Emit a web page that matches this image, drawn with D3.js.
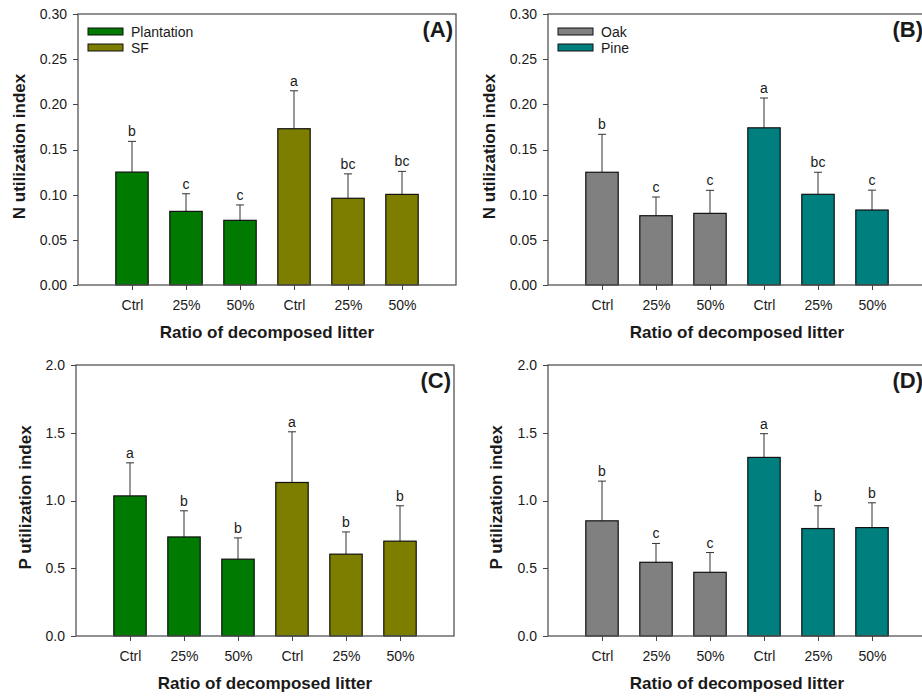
<!DOCTYPE html>
<html lang="en">
<head>
<meta charset="UTF-8"/>
<title>utilization index</title>
<script src="https://d3js.org/d3.v7.min.js"></script>
<style>
  body { margin: 0; background: #fff; }
  text { font-family: "Liberation Sans", Arial, sans-serif; fill: #1a1a1a; }
  .axis line { stroke: #444; shape-rendering: crispEdges; }
  .axis path { display: none; }
  .axis text { font-size: 14px; }
  .title { font-size: 17px; font-weight: bold; }
  .tag { font-size: 22px; font-weight: bold; }
  .letter { font-size: 14px; }
  .legend text { font-size: 14px; }
</style>
</head>
<body>
<div id="chart"></div>
<script>

// x categories (same for every panel)
var treatments = ["Ctrl", "25%", "50%", "Ctrl", "25%", "50%"];

// (A) N utilization index, Plantation vs SF
var nStandMean = [0.125, 0.0815, 0.0716, 0.173, 0.096, 0.1003];
var nStandErr  = [0.034, 0.0195, 0.017, 0.042, 0.027, 0.0255];
var nStandSig  = ["b", "c", "c", "a", "bc", "bc"];

// (B) N utilization index, Oak vs Pine
var nTreeMean = [0.1248, 0.0767, 0.0793, 0.174, 0.1004, 0.083];
var nTreeErr  = [0.042, 0.0207, 0.0255, 0.033, 0.0244, 0.022];
var nTreeSig  = ["b", "c", "c", "a", "bc", "c"];

// (C) P utilization index, Plantation vs SF
var pStandMean = [1.034, 0.731, 0.567, 1.133, 0.604, 0.70];
var pStandErr  = [0.244, 0.193, 0.157, 0.374, 0.164, 0.261];
var pStandSig  = ["a", "b", "b", "a", "b", "b"];

// (D) P utilization index, Oak vs Pine
var pTreeMean = [0.85, 0.544, 0.47, 1.318, 0.793, 0.80];
var pTreeErr  = [0.293, 0.139, 0.146, 0.175, 0.168, 0.183];
var pTreeSig  = ["b", "c", "c", "a", "b", "b"];

var standNames = ["Plantation", "SF"];
var treeNames  = ["Oak", "Pine"];

var nTicks = [0, 0.05, 0.10, 0.15, 0.20, 0.25, 0.30];
var pTicks = [0, 0.5, 1.0, 1.5, 2.0];

var standColors = ["#007a00", "#7d7d00"];
var treeColors  = ["#808080", "#007f7f"];

var svg = d3.select("#chart")
  .append("svg")
    .attr("width", 922)
    .attr("height", 696);

// panel boxes in page pixels
var panels = [
  {tag: "(A)", left: 78,  top: 14,  right: 456, bottom: 285, mean: nStandMean, err: nStandErr, sig: nStandSig,
   ticks: nTicks, fmt: ".2f", ytitle: "N utilization index", names: standNames, colors: standColors, ytx: 25},
  {tag: "(B)", left: 548, top: 14,  right: 926, bottom: 285, mean: nTreeMean, err: nTreeErr, sig: nTreeSig,
   ticks: nTicks, fmt: ".2f", ytitle: "N utilization index", names: treeNames, colors: treeColors, ytx: 495},
  {tag: "(C)", left: 76,  top: 365, right: 454, bottom: 636, mean: pStandMean, err: pStandErr, sig: pStandSig,
   ticks: pTicks, fmt: ".1f", ytitle: "P utilization index", names: null, colors: standColors, ytx: 31},
  {tag: "(D)", left: 548, top: 365, right: 926, bottom: 636, mean: pTreeMean, err: pTreeErr, sig: pTreeSig,
   ticks: pTicks, fmt: ".1f", ytitle: "P utilization index", names: null, colors: treeColors, ytx: 502}
];

panels.forEach(function(p) {
  var width = p.right - p.left,
      height = p.bottom - p.top;

  var g = svg.append("g")
    .attr("transform", "translate(" + p.left + "," + p.top + ")");

  var x = d3.scaleLinear().domain([0, 7]).range([0, width]);
  var y = d3.scaleLinear().domain([0, p.ticks[p.ticks.length - 1]]).range([height, 0]);

  var data = p.mean.map(function(m, i) {
    return {pos: i + 1, mean: m, err: p.err[i], sig: p.sig[i], grp: i < 3 ? 0 : 1};
  });

  var bw = x(0.6) - x(0);

  // error whiskers (upper only)
  g.selectAll("line.err")
    .data(data)
    .enter()
    .append("line")
      .attr("x1", function(d) { return x(d.pos); })
      .attr("x2", function(d) { return x(d.pos); })
      .attr("y1", function(d) { return y(d.mean); })
      .attr("y2", function(d) { return y(d.mean + d.err); })
      .attr("stroke", "#333");

  g.selectAll("line.cap")
    .data(data)
    .enter()
    .append("line")
      .attr("x1", function(d) { return x(d.pos) - 4; })
      .attr("x2", function(d) { return x(d.pos) + 4; })
      .attr("y1", function(d) { return y(d.mean + d.err); })
      .attr("y2", function(d) { return y(d.mean + d.err); })
      .attr("stroke", "#333");

  // bars
  g.selectAll("rect.bar")
    .data(data)
    .enter()
    .append("rect")
      .attr("x", function(d) { return x(d.pos) - bw / 2; })
      .attr("y", function(d) { return y(d.mean); })
      .attr("width", bw)
      .attr("height", function(d) { return height - y(d.mean); })
      .attr("fill", function(d) { return p.colors[d.grp]; })
      .attr("stroke", "#111")
      .attr("stroke-width", 1.2);

  // significance letters
  g.selectAll("text.letter")
    .data(data)
    .enter()
    .append("text")
      .attr("class", "letter")
      .attr("x", function(d) { return x(d.pos); })
      .attr("y", function(d) { return y(d.mean + d.err) - 5; })
      .attr("text-anchor", "middle")
      .text(function(d) { return d.sig; });

  // frame
  g.append("rect")
    .attr("width", width)
    .attr("height", height)
    .attr("fill", "none")
    .attr("stroke", "#555")
    .attr("stroke-width", 1.3);

  g.append("g")
    .attr("class", "axis")
    .call(d3.axisLeft(y).tickValues(p.ticks).tickSize(5).tickPadding(6).tickFormat(d3.format(p.fmt)));

  g.append("g")
    .attr("class", "axis")
    .attr("transform", "translate(0," + height + ")")
    .call(d3.axisBottom(x).tickValues([1, 2, 3, 4, 5, 6]).tickSize(5).tickPadding(10)
      .tickFormat(function(d) { return treatments[d - 1]; }));

  // titles
  g.append("text")
    .attr("class", "title")
    .attr("x", x(3.5))
    .attr("y", height + 53)
    .attr("text-anchor", "middle")
    .text("Ratio of decomposed litter");

  svg.append("text")
    .attr("class", "title")
    .attr("transform", "translate(" + p.ytx + "," + (p.top + height / 2 - 3) + ")rotate(-90)")
    .attr("text-anchor", "middle")
    .text(p.ytitle);

  g.append("text")
    .attr("class", "tag")
    .attr("x", width - 3)
    .attr("y", 23)
    .attr("text-anchor", "end")
    .text(p.tag);

  // legend
  if (p.names) {
    var lg = g.append("g").attr("class", "legend");
    lg.selectAll("rect")
      .data(p.names)
      .enter()
      .append("rect")
        .attr("x", 10)
        .attr("y", function(d, i) { return 14 + i * 16; })
        .attr("width", 35)
        .attr("height", 7)
        .attr("fill", function(d, i) { return p.colors[i]; })
        .attr("stroke", "#111");
    lg.selectAll("text")
      .data(p.names)
      .enter()
      .append("text")
        .attr("x", 53)
        .attr("y", function(d, i) { return 23 + i * 16; })
        .text(function(d) { return d; });
  }
});

</script>
</body>
</html>
